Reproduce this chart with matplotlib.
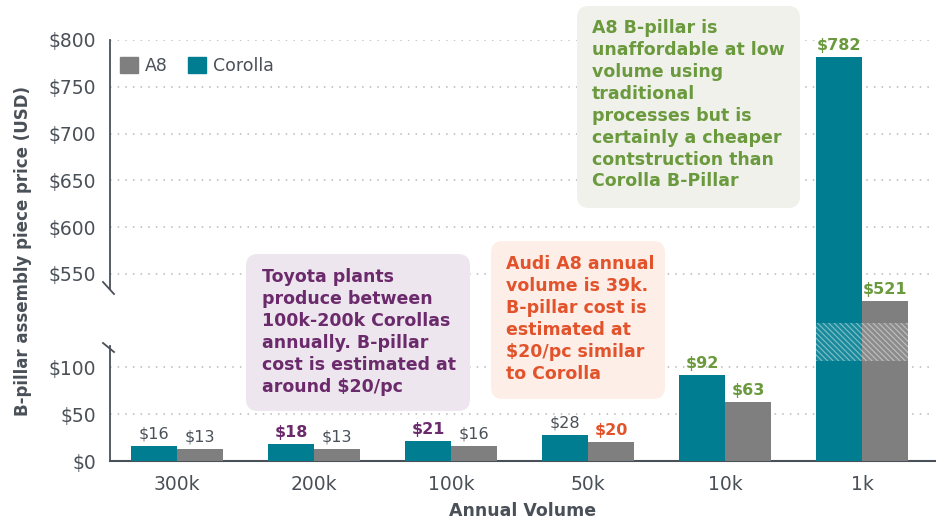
import numpy as np
import matplotlib
matplotlib.use("Agg")
import matplotlib.pyplot as plt
from matplotlib.patches import FancyBboxPatch, Patch
from matplotlib.transforms import IdentityTransform

# ---------------- data ----------------
categories = ["300k", "200k", "100k", "50k", "10k", "1k"]
corolla = [16, 18, 21, 28, 92, 782]
a8 = [13, 13, 16, 20, 63, 521]
corolla_labels = ["$16", "$18", "$21", "$28", "$92", "$782"]
a8_labels = ["$13", "$13", "$16", "$20", "$63", "$521"]
y_ticks = [0, 50, 100, 550, 600, 650, 700, 750, 800]
y_tick_labels = ["$0", "$50", "$100", "$550", "$600", "$650", "$700", "$750", "$800"]

note_toyota = ("Toyota plants\nproduce between\n100k-200k Corollas\n"
               "annually. B-pillar\ncost is estimated at\naround $20/pc")
note_audi = ("Audi A8 annual\nvolume is 39k.\nB-pillar cost is\nestimated at\n"
             "$20/pc similar\nto Corolla")
note_a8 = ("A8 B-pillar is\nunaffordable at low\nvolume using\ntraditional\n"
           "processes but is\ncertainly a cheaper\ncontstruction than\nCorolla B-Pillar")

# ---------------- styles ----------------
TEAL = "#007d91"
GREY = "#7f7f7f"
DARK = "#4a5058"
PURPLE = "#6b2a6b"
ORANGE = "#e2532c"
GREEN = "#6a9a3d"
corolla_label_style = [(DARK, "normal"), (PURPLE, "bold"), (PURPLE, "bold"),
                       (DARK, "normal"), (GREEN, "bold"), (GREEN, "bold")]
a8_label_style = [(DARK, "normal"), (DARK, "normal"), (DARK, "normal"),
                  (ORANGE, "bold"), (GREEN, "bold"), (GREEN, "bold")]

plt.rcParams["font.family"] = ["DejaVu Sans"]
plt.rcParams["hatch.linewidth"] = 0.8

# broken-axis scale
B1, B2, G = 107.0, 497.0, 40.0


def fwd(y):
    y = np.asarray(y, float)
    return np.where(y <= B1, y,
                    np.where(y >= B2, y - (B2 - B1) + G, B1 + (y - B1) * G / (B2 - B1)))


def inv(d):
    d = np.asarray(d, float)
    return np.where(d <= B1, d,
                    np.where(d >= B1 + G, d + (B2 - B1) - G, B1 + (d - B1) * (B2 - B1) / G))


W, H = 936, 522
fig = plt.figure(figsize=(W / 100, H / 100), dpi=100)
ax = fig.add_axes([110 / W, 61 / H, 825 / W, 421 / H])
ax.set_yscale("function", functions=(fwd, inv))
ax.set_ylim(0, 800)
ax.set_xlim(-0.489, 5.53)

x = np.arange(len(categories))
bw = 0.336
b_cor = ax.bar(x - bw / 2, corolla, bw, color=TEAL, zorder=3)
b_a8 = ax.bar(x + bw / 2, a8, bw, color=GREY, zorder=3)

# hatched break band on the tall bars
last = len(categories) - 1
for xx in (x[last] - bw / 2, x[last] + bw / 2):
    ax.bar(xx, B2 - B1, bw, bottom=B1, facecolor=(1, 1, 1, 0.10),
           edgecolor=(1, 1, 1, 0.45), hatch="\\\\\\\\\\\\", lw=0, zorder=4)

# value labels
for i in range(len(categories)):
    c, wgt = corolla_label_style[i]
    ax.annotate(corolla_labels[i], (x[i] - bw / 2, corolla[i]), xytext=(0, 3),
                textcoords="offset points", ha="center", va="bottom",
                fontsize=11.5, color=c, fontweight=wgt, zorder=5)
    c, wgt = a8_label_style[i]
    ax.annotate(a8_labels[i], (x[i] + bw / 2, a8[i]), xytext=(0, 3),
                textcoords="offset points", ha="center", va="bottom",
                fontsize=11.5, color=c, fontweight=wgt, zorder=5)

# axes styling
ax.set_yticks(y_ticks)
ax.set_yticklabels(y_tick_labels)
ax.set_xticks(x)
ax.set_xticklabels(categories)
ax.tick_params(axis="both", length=0, labelsize=13.5, labelcolor=DARK)
ax.tick_params(axis="y", pad=10)
ax.tick_params(axis="x", pad=10)
ax.yaxis.grid(True, linestyle=(0, (1, 4)), color="#b8b8b8", lw=1.1)
ax.set_axisbelow(True)
for s in ("top", "right", "left"):
    ax.spines[s].set_visible(False)
ax.spines["bottom"].set_color(DARK)
ax.spines["bottom"].set_linewidth(1.5)

# split left spine with break marks
ax.plot([0, 0], [0, 0.273], transform=ax.transAxes, color=DARK, lw=1.3, clip_on=False, zorder=6)
ax.plot([0, 0], [0.408, 1], transform=ax.transAxes, color=DARK, lw=1.3, clip_on=False, zorder=6)
fig.add_artist(plt.Line2D([103, 114], [H - 282, H - 294], transform=IdentityTransform(),
                          color=DARK, lw=1.3))
fig.add_artist(plt.Line2D([103, 114], [H - 343, H - 352], transform=IdentityTransform(),
                          color=DARK, lw=1.3))

ax.set_ylabel("B-pillar assembly piece price (USD)", fontsize=12, color=DARK,
              fontweight="bold", labelpad=12)
ax.set_xlabel("Annual Volume", fontsize=12.5, color=DARK, fontweight="bold", labelpad=6)

# legend
handles = [Patch(color=GREY), Patch(color=TEAL)]
leg = ax.legend(handles, ["A8", "Corolla"], ncol=2, loc="upper left",
                bbox_to_anchor=(0.0, 0.985), frameon=False, fontsize=12.5,
                handlelength=1.0, handleheight=1.0, handletextpad=0.4,
                columnspacing=1.2, borderaxespad=0.2)
for t in leg.get_texts():
    t.set_color(DARK)


# annotation boxes (pixel layout)
def note(x0, y0, x1, y1, fc, text, color, tx, ty):
    box = FancyBboxPatch((x0, H - y1), x1 - x0, y1 - y0,
                         boxstyle="round,pad=0,rounding_size=12",
                         transform=IdentityTransform(), fc=fc, ec="none", zorder=7)
    fig.add_artist(box)
    fig.text(tx / W, 1 - ty / H, text, ha="left", va="top", fontsize=12.5,
             color=color, fontweight="bold", linespacing=1.28, zorder=8)


note(246, 254, 470, 411, "#ede6ee", note_toyota, PURPLE, 262, 268)
note(491, 241, 665, 399, "#fdeee7", note_audi, ORANGE, 506, 255)
note(577, 6, 800, 208, "#f0f1ea", note_a8, GREEN, 592, 19)

fig.savefig("out.png", dpi=100)
